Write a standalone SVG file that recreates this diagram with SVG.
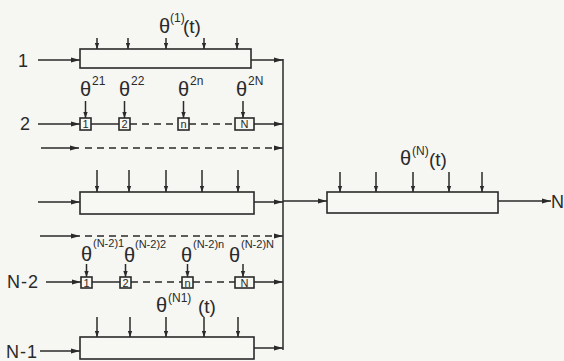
<svg xmlns="http://www.w3.org/2000/svg" width="564" height="361" viewBox="0 0 564 361">
<defs>
<style>
.bg{fill:#f6f6f3}
.box{fill:#f7f7f4;stroke:#2a2a2a;stroke-width:1.6}
.ln{stroke:#2a2a2a;stroke-width:1.5;fill:none}
.dash{stroke-dasharray:7 5}
.arr{marker-end:url(#ah)}
.sarr{marker-end:url(#sh)}
text{font-family:"Liberation Sans","DejaVu Sans",sans-serif;fill:#2a2a2a}
.lbl{font-size:18px;letter-spacing:1px}
.th{font-size:20px}
.tt{font-size:19px}
.sup{font-size:12px}
.sup2{font-size:11px}
.bx{font-size:11px;text-anchor:middle}
</style>
<marker id="ah" markerUnits="userSpaceOnUse" markerWidth="9" markerHeight="6" refX="9" refY="3" orient="auto"><path d="M0,0.6 L9,3 L0,5.4 z" fill="#2a2a2a"/></marker>
<marker id="sh" markerUnits="userSpaceOnUse" markerWidth="6" markerHeight="5" refX="6" refY="2.5" orient="auto"><path d="M0,0.3 L6,2.5 L0,4.7 z" fill="#2a2a2a"/></marker>
</defs>
<rect class="bg" x="0" y="0" width="564" height="361"/>

<g id="connectors">
<line class="ln arr" x1="38" y1="60" x2="80" y2="60"/>
<line class="ln arr" x1="38" y1="124" x2="80" y2="124"/>
<line class="ln arr" x1="41" y1="148" x2="79" y2="148"/>
<line class="ln dash arr" x1="85" y1="148" x2="283" y2="148"/>
<line class="ln arr" x1="38" y1="202" x2="80" y2="202"/>
<line class="ln arr" x1="40" y1="236" x2="80" y2="236"/>
<line class="ln dash arr" x1="85" y1="236" x2="283" y2="236"/>
<line class="ln arr" x1="46" y1="282" x2="81" y2="282"/>
<line class="ln arr" x1="40" y1="351" x2="80" y2="351"/>
<line class="ln" x1="91" y1="124" x2="119" y2="124"/>
<line class="ln dash" x1="130" y1="124" x2="178" y2="124"/>
<line class="ln dash" x1="189" y1="124" x2="236" y2="124"/>
<line class="ln" x1="92" y1="282" x2="120" y2="282"/>
<line class="ln dash" x1="131" y1="282" x2="182" y2="282"/>
<line class="ln dash" x1="193" y1="282" x2="236" y2="282"/>
<line class="ln arr" x1="251" y1="60" x2="283" y2="60"/>
<line class="ln arr" x1="254" y1="124" x2="283" y2="124"/>
<line class="ln arr" x1="254" y1="202" x2="283" y2="202"/>
<line class="ln arr" x1="254" y1="282" x2="283" y2="282"/>
<line class="ln arr" x1="254" y1="348" x2="283" y2="348"/>
<line class="ln" x1="283" y1="59" x2="283" y2="350"/>
<line class="ln arr" x1="283" y1="201" x2="327" y2="201"/>
<line class="ln arr" x1="498" y1="201" x2="551" y2="201"/>
<line class="ln sarr" x1="97" y1="38" x2="97" y2="49"/>
<line class="ln sarr" x1="128" y1="38" x2="128" y2="49"/>
<line class="ln sarr" x1="166" y1="38" x2="166" y2="49"/>
<line class="ln sarr" x1="204" y1="38" x2="204" y2="49"/>
<line class="ln sarr" x1="237" y1="38" x2="237" y2="49"/>
<line class="ln sarr" x1="97" y1="170" x2="97" y2="192"/>
<line class="ln sarr" x1="129" y1="170" x2="129" y2="192"/>
<line class="ln sarr" x1="166" y1="170" x2="166" y2="192"/>
<line class="ln sarr" x1="202" y1="170" x2="202" y2="192"/>
<line class="ln sarr" x1="238" y1="170" x2="238" y2="192"/>
<line class="ln sarr" x1="97" y1="317" x2="97" y2="337"/>
<line class="ln sarr" x1="130" y1="317" x2="130" y2="337"/>
<line class="ln sarr" x1="166" y1="317" x2="166" y2="337"/>
<line class="ln sarr" x1="204" y1="317" x2="204" y2="337"/>
<line class="ln sarr" x1="238" y1="317" x2="238" y2="337"/>
<line class="ln sarr" x1="340" y1="172" x2="340" y2="192"/>
<line class="ln sarr" x1="376" y1="172" x2="376" y2="192"/>
<line class="ln sarr" x1="413" y1="172" x2="413" y2="192"/>
<line class="ln sarr" x1="449" y1="172" x2="449" y2="192"/>
<line class="ln sarr" x1="482" y1="172" x2="482" y2="192"/>
<line class="ln sarr" x1="85.5" y1="101" x2="85.5" y2="118"/>
<line class="ln sarr" x1="124.5" y1="101" x2="124.5" y2="118"/>
<line class="ln sarr" x1="183.5" y1="101" x2="183.5" y2="118"/>
<line class="ln sarr" x1="243" y1="101" x2="243" y2="118"/>
<line class="ln sarr" x1="86.5" y1="264" x2="86.5" y2="277"/>
<line class="ln sarr" x1="125.5" y1="264" x2="125.5" y2="277"/>
<line class="ln sarr" x1="187.5" y1="264" x2="187.5" y2="277"/>
<line class="ln sarr" x1="243" y1="264" x2="243" y2="277"/>
</g>

<g id="label-1"><text class="lbl" x="18" y="67">1</text></g>
<g id="label-2"><text class="lbl" x="20" y="130">2</text></g>
<g id="label-N-2"><text class="lbl" x="7" y="288">N-2</text></g>
<g id="label-N-1"><text class="lbl" x="6" y="358">N-1</text></g>
<g id="label-N"><text class="lbl" x="551" y="208">N</text></g>

<g id="box-1">
<rect class="box" x="80" y="49" width="171" height="19"/>
<text x="159" y="33"><tspan class="th">θ</tspan><tspan class="sup" x="170" y="22">(1)</tspan><tspan class="tt" x="183" y="33">(t)</tspan></text>
</g>

<g id="row-2">
<rect class="box" x="80" y="118" width="11" height="12"/>
<text class="bx" x="85.5" y="128">1</text>
<rect class="box" x="119" y="118" width="11" height="12"/>
<text class="bx" x="124.5" y="128">2</text>
<rect class="box" x="178" y="118" width="11" height="12"/>
<text class="bx" x="183.5" y="128">n</text>
<rect class="box" x="235" y="118" width="19" height="12"/>
<text class="bx" x="244.5" y="128">N</text>
<text x="80" y="96"><tspan class="th">θ</tspan><tspan class="sup" x="92" y="85">21</tspan></text>
<text x="119" y="96"><tspan class="th">θ</tspan><tspan class="sup" x="131" y="85">22</tspan></text>
<text x="178" y="96"><tspan class="th">θ</tspan><tspan class="sup" x="190" y="85">2n</tspan></text>
<text x="236" y="96"><tspan class="th">θ</tspan><tspan class="sup" x="248" y="85">2N</tspan></text>
</g>

<g id="box-middle">
<rect class="box" x="80" y="192" width="174" height="22"/>
</g>

<g id="row-N-2">
<rect class="box" x="81" y="277" width="11" height="11"/>
<text class="bx" x="86.5" y="286.5">1</text>
<rect class="box" x="120" y="277" width="11" height="11"/>
<text class="bx" x="125.5" y="286.5">2</text>
<rect class="box" x="182" y="277" width="11" height="11"/>
<text class="bx" x="187.5" y="286.5">n</text>
<rect class="box" x="235" y="277" width="19" height="11"/>
<text class="bx" x="244.5" y="286.5">N</text>
<text x="81" y="261"><tspan class="th">θ</tspan><tspan class="sup2" x="93" y="247">(N-2)1</tspan></text>
<text x="124" y="262"><tspan class="th">θ</tspan><tspan class="sup2" x="135" y="248">(N-2)2</tspan></text>
<text x="181" y="262"><tspan class="th">θ</tspan><tspan class="sup2" x="193" y="248">(N-2)n</tspan></text>
<text x="229" y="262"><tspan class="th">θ</tspan><tspan class="sup2" x="241" y="248">(N-2)N</tspan></text>
</g>

<g id="box-N-1">
<rect class="box" x="80" y="337" width="174" height="22"/>
<text x="156" y="312"><tspan class="th">θ</tspan><tspan class="sup" x="168" y="302">(N1)</tspan><tspan class="tt" x="198" y="313">(t)</tspan></text>
</g>

<g id="box-N">
<rect class="box" x="327" y="192" width="171" height="21"/>
<text x="400" y="165"><tspan class="th">θ</tspan><tspan class="sup" x="412" y="155">(N)</tspan><tspan class="tt" x="429" y="166">(t)</tspan></text>
</g>
</svg>
